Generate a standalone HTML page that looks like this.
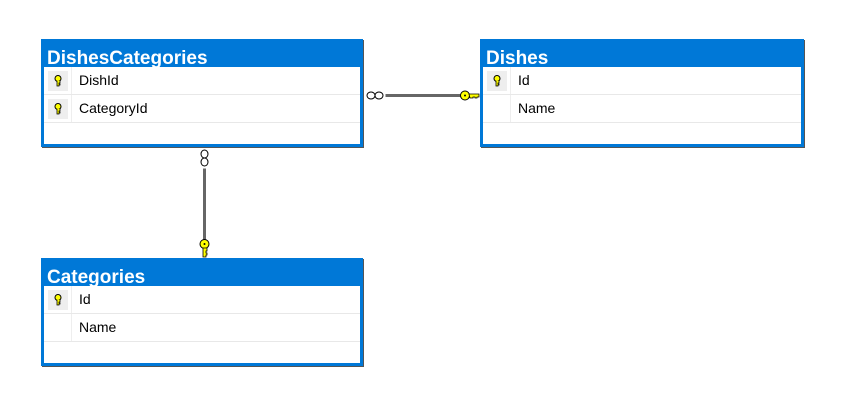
<!DOCTYPE html><html><head><style>
body{margin:0;width:847px;height:417px;background:#fff;position:relative;font-family:"Liberation Sans",sans-serif;overflow:hidden}
.t{position:absolute;background:#0078d7;box-shadow:1px 1px 0 #555}
.h{position:absolute;left:6px;top:8px;height:20px;overflow:hidden;color:#fff;font-weight:bold;font-size:19px;line-height:24px}
.b{position:absolute;left:3px;top:28px;right:3px;bottom:3px;background:#fff}
.r{position:absolute;left:0;right:0;height:27px;border-bottom:1px solid #e8e8e8;font-size:14px;line-height:27px}
.k{position:absolute;left:4px;top:4px;width:20px;height:20px;background:#eee}
.k svg{position:absolute;left:6px;top:4px}
.n{position:absolute;left:35px;top:0}
.s{position:absolute;left:27px;top:0;height:55px;border-left:1px solid #eee}
</style></head><body>
<svg width="0" height="0" style="position:absolute"><defs><symbol id="key" viewBox="0 0 8 12"><circle cx="4" cy="3.5" r="3" fill="#ff0" stroke="#000" stroke-width="1"/><path d="M3 6v5h2v-1h1v-1h-1v-1h1v-2" fill="#ff0" stroke="#000" stroke-width="0.8"/></symbol></defs></svg>

<div class="t" style="left:41px;top:39px;width:322px;height:108px"><div class="h">DishesCategories</div><div class="b"><div class="s"></div>
<div class="r" style="top:0"><div class="k"><svg width="8" height="12"><use href="#key"/></svg></div><span class="n">DishId</span></div>
<div class="r" style="top:28px"><div class="k"><svg width="8" height="12"><use href="#key"/></svg></div><span class="n">CategoryId</span></div></div></div>

<div class="t" style="left:480px;top:39px;width:324px;height:108px"><div class="h">Dishes</div><div class="b"><div class="s"></div>
<div class="r" style="top:0"><div class="k"><svg width="8" height="12"><use href="#key"/></svg></div><span class="n">Id</span></div>
<div class="r" style="top:28px"><span class="n">Name</span></div></div></div>

<div class="t" style="left:41px;top:258px;width:322px;height:108px"><div class="h">Categories</div><div class="b"><div class="s"></div>
<div class="r" style="top:0"><div class="k"><svg width="8" height="12"><use href="#key"/></svg></div><span class="n">Id</span></div>
<div class="r" style="top:28px"><span class="n">Name</span></div></div></div>

<svg width="847" height="417" style="position:absolute;left:0;top:0">
<rect x="385" y="93.5" width="76" height="4" fill="#666" stroke="#fff" stroke-width="1"/>
<ellipse cx="371" cy="95.5" rx="4" ry="3.5" fill="#fff" stroke="#000"/><ellipse cx="379" cy="95.5" rx="4" ry="3.5" fill="#fff" stroke="#000"/>
<circle cx="465" cy="95.5" r="4.5" fill="#ff0" stroke="#000"/><circle cx="465" cy="95.5" r="1" fill="#000"/>
<path d="M469 94h10v3h-2v1h-2v-1h-2v1h-3z" fill="#ff0" stroke="#000" stroke-width="0.8"/>
<rect x="202.5" y="168" width="4" height="72" fill="#666" stroke="#fff" stroke-width="1"/>
<ellipse cx="204.5" cy="154" rx="3.5" ry="4" fill="#fff" stroke="#000"/><ellipse cx="204.5" cy="162" rx="3.5" ry="4" fill="#fff" stroke="#000"/>
<circle cx="204.5" cy="244" r="4.5" fill="#ff0" stroke="#000"/><circle cx="204.5" cy="244" r="1" fill="#000"/>
<path d="M203 248v9h3v-2h1v-2h-1v-2h1v-3z" fill="#ff0" stroke="#000" stroke-width="0.8"/>
</svg>
</body></html>
